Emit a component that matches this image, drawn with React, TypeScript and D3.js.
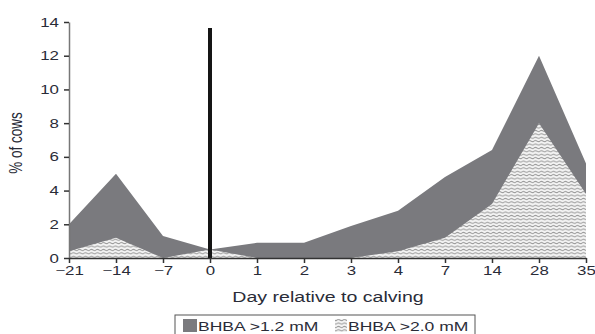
import { useEffect, useRef } from "react";
import * as d3 from "d3";

const days = ["-21", "-14", "-7", "0", "1", "2", "3", "4", "7", "14", "28", "35"];
const bhba12 = [2.0, 5.0, 1.3, 0.5, 0.9, 0.9, 1.9, 2.8, 4.8, 6.4, 12.0, 5.6];
const bhba20 = [0.4, 1.2, 0.0, 0.5, 0.0, 0.0, 0.0, 0.4, 1.2, 3.2, 8.0, 3.8];
const yTicks = [0, 2, 4, 6, 8, 10, 12, 14];

const font = "'Liberation Sans', Arial, sans-serif";
const ink = "#2a2c38";
// the source figure is stretched sideways, so text is too
const sx = 1.35;

function App() {
  const ref = useRef<SVGSVGElement>(null);

  useEffect(() => {
    const svg = d3.select(ref.current);
    svg.selectAll("*").remove();

    const x = d3.scalePoint<string>().domain(days).range([69, 586]);
    const y = d3.scaleLinear().domain([0, 14]).range([258, 22]);

    const defs = svg.append("defs");
    const pat = defs.append("pattern")
      .attr("id", "wavy")
      .attr("patternUnits", "userSpaceOnUse")
      .attr("width", 6)
      .attr("height", 3.4);
    pat.append("rect").attr("width", 6).attr("height", 3.4).attr("fill", "#f4f4f4");
    pat.append("path")
      .attr("d", "M0,1.7 Q1.5,0.6 3,1.7 T6,1.7")
      .attr("stroke", "#9a9a9a")
      .attr("stroke-width", 1)
      .attr("fill", "none");

    const area = (vals: number[]) => d3.area<number>()
      .x((_, i) => x(days[i]) as number)
      .y0(y(0))
      .y1(d => y(d))(vals);

    svg.append("path").attr("d", area(bhba12)).attr("fill", "#7a7a7e");
    svg.append("path").attr("d", area(bhba20)).attr("fill", "url(#wavy)");

    // calving line
    svg.append("rect")
      .attr("x", (x("0") as number) - 2)
      .attr("y", 28)
      .attr("width", 4)
      .attr("height", y(0) - 28)
      .attr("fill", "#151515");

    const yAxis = svg.append("g")
      .attr("transform", "translate(69,0)")
      .call(d3.axisLeft(y).tickValues(yTicks).tickSize(5).tickSizeOuter(0));
    yAxis.select(".domain").attr("stroke", "#777").attr("stroke-width", 1.5);
    yAxis.selectAll(".tick line").attr("stroke", "#333").attr("stroke-width", 1.5);
    yAxis.selectAll("text")
      .attr("font-family", font).attr("font-size", 12.5).attr("fill", ink)
      .attr("x", -7.5).attr("transform", `scale(${sx},1)`);

    const xAxis = svg.append("g")
      .attr("transform", `translate(0,${y(0)})`)
      .call(d3.axisBottom(x).tickSize(5).tickSizeOuter(0).tickFormat(d => d.replace("-", "\u2212")));
    xAxis.select(".domain").attr("stroke", "#333").attr("stroke-width", 1.5);
    xAxis.selectAll(".tick line").attr("stroke", "#333").attr("stroke-width", 1.5);
    xAxis.selectAll("text")
      .attr("font-family", font).attr("font-size", 12.5).attr("fill", ink)
      .attr("y", 8).attr("transform", `scale(${sx},1)`);

    svg.append("text")
      .attr("transform", "translate(22,143) rotate(-90) scale(1,1.3)")
      .attr("text-anchor", "middle")
      .attr("font-family", font).attr("font-size", 13.5).attr("fill", ink)
      .text("% of cows");

    svg.append("text")
      .attr("transform", `translate(328,302) scale(${sx},1)`)
      .attr("text-anchor", "middle")
      .attr("font-family", font).attr("font-size", 14.5).attr("fill", ink)
      .text("Day relative to calving");

    const lg = svg.append("g").attr("transform", "translate(175,315)");
    lg.append("rect").attr("width", 300).attr("height", 22)
      .attr("fill", "#fff").attr("stroke", "#555").attr("stroke-width", 1);
    lg.append("rect").attr("x", 8).attr("y", 4).attr("width", 14).attr("height", 13).attr("fill", "#7a7a7e");
    lg.append("text").attr("transform", `translate(23,16) scale(${sx},1)`)
      .attr("font-family", font).attr("font-size", 13).attr("fill", ink)
      .text("BHBA >1.2 mM");
    lg.append("rect").attr("x", 160).attr("y", 4).attr("width", 12).attr("height", 13).attr("fill", "url(#wavy)");
    lg.append("text").attr("transform", `translate(173,16) scale(${sx},1)`)
      .attr("font-family", font).attr("font-size", 13).attr("fill", ink)
      .text("BHBA >2.0 mM");
  }, []);

  return <svg ref={ref} width={595} height={334} style={{ position: "absolute", left: 0, top: 0 }} />;
}

export default App;
